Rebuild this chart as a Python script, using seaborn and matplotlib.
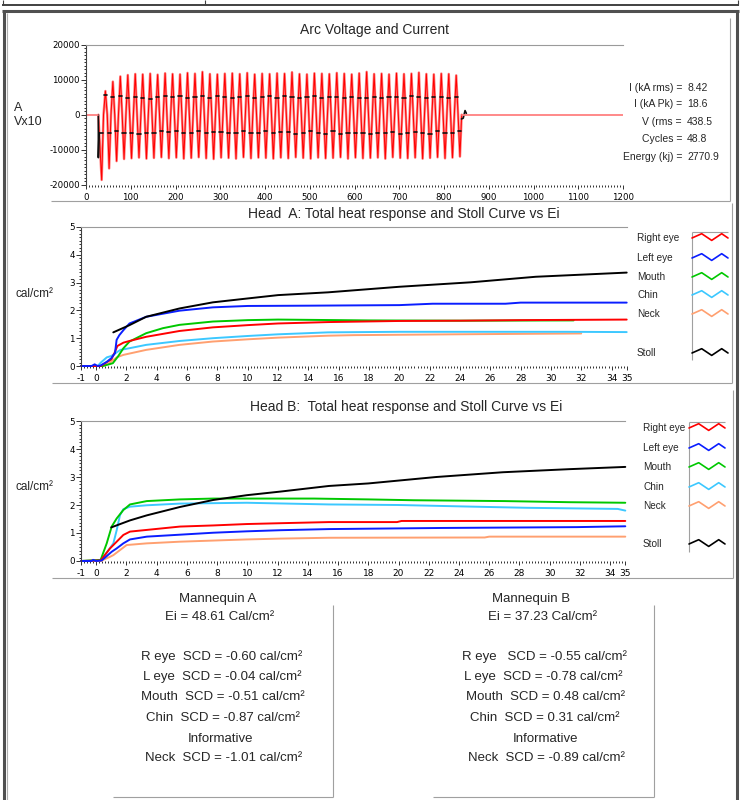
import numpy as np
import pandas as pd
import matplotlib
matplotlib.use("Agg")
import matplotlib.pyplot as plt
import seaborn as sns
from matplotlib.ticker import MultipleLocator, FixedLocator
from matplotlib.lines import Line2D

sns.set_style("white")
plt.rcParams['font.family'] = ['Liberation Sans', 'DejaVu Sans']
plt.rcParams['axes.unicode_minus'] = False

# ---------------- data ----------------
# arc current, half-cycle peaks (A); negatives first
cur_neg = [-18700, -15400, -13300, -12700, -12500, -12300, -12600, -12400, -12200, -12500,
           -12300, -12600, -12400, -12200, -12500, -12700, -12300, -12400, -12600, -12200,
           -12500, -12300, -12400, -12600, -12300, -12500, -12200, -12400, -12600, -12300,
           -12500, -12400, -12200, -12600, -12300, -12500, -12400, -12300, -12600, -12200,
           -12400, -12500, -12300, -12600, -12400, -12200, -12500, -12300, -12000]
cur_pos = [6800, 9500, 11000, 11400, 11700, 11600, 11800, 11500, 11900, 11700,
           11600, 12000, 11800, 12300, 11700, 11600, 11800, 11900, 11700, 12000,
           11600, 11800, 11700, 11900, 11800, 12200, 11700, 11600, 11900, 11800,
           11700, 12000, 11800, 11600, 11900, 12300, 11700, 11800, 11600, 11900,
           11700, 11800, 12100, 11700, 11600, 11800, 11700, 11300]
# arc voltage plateau per half cycle (V x10)
v_mag = [5200, 5600, 5300, 5000, 4800, 5400, 5100, 4700, 5300, 5000,
         5500, 4900, 5200, 4600, 5300, 5100, 4800, 5400, 5000, 5200,
         4700, 5500, 5100, 4900, 5300, 5000, 4800, 5400, 5200, 4700,
         5000, 5500, 4900, 5100, 5300, 4800, 5200, 5000, 4600, 5400,
         5100, 4900, 5300, 5000, 4800, 5500, 5200, 4700, 5000, 5300,
         4900, 5100, 5400, 4800, 5200, 5000, 4700, 5300, 5100, 4900,
         5500, 5000, 4800, 5200, 5400, 4700, 5100, 5000, 5300, 4900,
         5200, 4800, 5500, 5000, 5100, 4700, 5300, 5200, 4900, 5000,
         5400, 4800, 5100, 5300, 4900, 5000, 5200, 4700, 5400, 5100,
         4800, 5000, 5300, 4900, 5200, 5000, 4600]
v_spike = -12300
v_tail_t = [839, 843, 847, 850]
v_tail = [-1200, -1000, 1200, 400]
t_arc_on = 27.6
t_arc_off = 839.5
t_first_peak = 35.0
half_cycle = 8.34
t_trace_end = 1200

stat_labels = ["I (kA rms) =", "I (kA Pk) =", "V (rms =", "Cycles =", "Energy (kj) ="]
stat_values = ["8.42", "18.6", "438.5", "48.8", "2770.9"]

parts = ["Right eye", "Left eye", "Mouth", "Chin", "Neck", "Stoll"]
part_colors = {"Right eye": "#ff0000", "Left eye": "#0a1eff", "Mouth": "#00c800",
               "Chin": "#3cc8ff", "Neck": "#ffa070", "Stoll": "#000000"}

headA = {
    "Neck": ([-1, 0.4, 0.8, 1.35, 1.8, 3.3, 5.5, 7.7, 10, 12, 15.3, 17, 23.7, 32],
             [0, 0, 0.07, 0.31, 0.40, 0.58, 0.76, 0.88, 0.96, 1.02, 1.09, 1.11, 1.14, 1.17]),
    "Chin": ([-1, 0.1, 0.3, 0.7, 1.0, 1.6, 2.2, 3.3, 5.5, 7.7, 10, 12, 15.3, 20, 31, 35],
             [0, 0, 0.12, 0.31, 0.36, 0.58, 0.64, 0.76, 0.90, 1.00, 1.08, 1.14, 1.21, 1.23, 1.23, 1.22]),
    "Mouth": ([-1, 0.45, 1.1, 1.45, 1.8, 2.2, 3.3, 4.4, 5.5, 7.7, 10, 12, 14, 18, 24, 31.5],
              [0, 0, 0.10, 0.35, 0.64, 0.88, 1.18, 1.36, 1.48, 1.60, 1.65, 1.67, 1.66, 1.64, 1.63, 1.64]),
    "Right eye": ([-1, 0.3, 0.6, 1.0, 1.2, 1.4, 1.8, 2.2, 3.3, 5.5, 7.7, 10, 12, 15.3, 20, 24, 28, 35],
                  [0, 0, 0.10, 0.24, 0.46, 0.72, 0.84, 0.90, 1.05, 1.26, 1.39, 1.47, 1.53, 1.58, 1.62, 1.63, 1.65, 1.67]),
    "Left eye": ([-1, -0.3, -0.1, 0.1, 0.3, 0.7, 1.0, 1.24, 1.35, 1.53, 1.8, 2.2, 3.3, 5.5, 7.7, 10, 14, 20, 22.2, 27, 28, 35],
                 [0, 0, 0.06, 0, 0.02, 0.15, 0.28, 0.46, 0.94, 1.11, 1.29, 1.53, 1.77, 1.99, 2.11, 2.16, 2.17, 2.19, 2.24, 2.24, 2.28, 2.28]),
    "Stoll": ([1.13, 2.2, 3.3, 5.5, 7.7, 10, 12, 15.3, 20, 24.7, 29, 35],
              [1.21, 1.47, 1.77, 2.07, 2.29, 2.43, 2.55, 2.65, 2.85, 3.01, 3.21, 3.36]),
}
headB = {
    "Neck": ([-1, 0.35, 0.54, 0.92, 1.14, 1.58, 2.02, 3.35, 5.55, 7.75, 9.96, 12.2, 15.4, 25.7, 26, 35],
             [0, 0, 0.06, 0.15, 0.21, 0.39, 0.57, 0.63, 0.69, 0.73, 0.77, 0.80, 0.83, 0.84, 0.87, 0.87]),
    "Chin": ([-1, 0.3, 0.7, 1.14, 1.36, 1.58, 1.8, 2.24, 3.35, 5.55, 9.96, 15.4, 20, 25, 28.5, 34.5, 35],
             [0, 0.02, 0.30, 0.63, 1.10, 1.64, 1.85, 1.94, 1.99, 2.05, 2.08, 2.02, 2.00, 1.94, 1.90, 1.86, 1.80]),
    "Mouth": ([-1, 0.3, 0.7, 1.03, 1.36, 1.8, 2.24, 3.35, 5.55, 7.75, 14.4, 18, 21, 27, 31.3, 35],
              [0, 0.04, 0.63, 1.23, 1.52, 1.82, 2.02, 2.14, 2.20, 2.23, 2.23, 2.20, 2.17, 2.14, 2.10, 2.08]),
    "Right eye": ([-1, 0.3, 0.92, 1.36, 1.8, 2.24, 3.35, 5.55, 7.75, 9.96, 12.2, 15.4, 19.9, 20.2, 35],
                  [0, 0.02, 0.45, 0.69, 0.93, 1.05, 1.11, 1.23, 1.27, 1.32, 1.35, 1.39, 1.39, 1.43, 1.43]),
    "Left eye": ([-1, -0.3, -0.2, 0.0, 0.37, 1.03, 1.36, 1.8, 2.24, 3.35, 5.55, 7.75, 9.96, 12.2, 15.4, 22.9, 31.8, 35],
                 [0, 0, 0.04, 0, 0.02, 0.33, 0.45, 0.63, 0.77, 0.87, 0.94, 1.01, 1.06, 1.10, 1.14, 1.18, 1.21, 1.24]),
    "Stoll": ([1.0, 2.24, 3.35, 5.55, 7.75, 9.96, 12.2, 15.4, 18, 22.5, 26.9, 31.3, 35],
              [1.20, 1.45, 1.63, 1.93, 2.18, 2.35, 2.48, 2.68, 2.77, 3.00, 3.17, 3.28, 3.36]),
}

textA = ["Mannequin A", "Ei = 48.61 Cal/cm²", "", "R eye  SCD = -0.60 cal/cm²",
         "L eye  SCD = -0.04 cal/cm²", "Mouth  SCD = -0.51 cal/cm²",
         "Chin  SCD = -0.87 cal/cm²", "Informative", "Neck  SCD = -1.01 cal/cm²"]
textB = ["Mannequin B", "Ei = 37.23 Cal/cm²", "", "R eye   SCD = -0.55 cal/cm²",
         "L eye  SCD = -0.78 cal/cm²", "Mouth  SCD = 0.48 cal/cm²",
         "Chin  SCD = 0.31 cal/cm²", "Informative", "Neck  SCD = -0.89 cal/cm²"]

# ---------------- figure ----------------
W, H = 741, 800
fig = plt.figure(figsize=(W / 100, H / 100), dpi=100)
fig.patch.set_facecolor('white')


def px_axes(left, top, right, bottom):
    return fig.add_axes([left / W, 1 - bottom / H, (right - left) / W, (bottom - top) / H])


def ftext(x, y, s, **kw):
    fig.text(x / W, 1 - y / H, s, **kw)


bg = fig.add_axes([0, 0, 1, 1], zorder=-5)
bg.set_xlim(0, W)
bg.set_ylim(H, 0)
bg.axis('off')


def seg(x0, y0, x1, y1, c='#a0a0a0', lw=0.8):
    bg.add_line(Line2D([x0, x1], [y0, y1], color=c, lw=lw, solid_capstyle='butt'))


# window frames
seg(2, 4.5, 739, 4.5, '#404040', 1.4)
seg(205, 0, 205, 4.5, '#404040', 0.8)
seg(3, 0, 3, 4.5, '#404040', 0.8)
seg(738, 0, 738, 4.5, '#404040', 0.8)
seg(2, 11, 739, 11, '#505050', 2.2)
seg(4, 11, 4, 800, '#505050', 2.2)
seg(737, 11, 737, 800, '#505050', 2.2)
seg(7, 13, 7, 800, '#b0b0b0', 0.8)
# panel frames
seg(51, 200.5, 730, 200.5)
seg(730, 18, 730, 200.5)
seg(52, 383, 732, 383)
seg(732, 203, 732, 383)
seg(52, 578, 733, 578)
seg(733, 390, 733, 578)
seg(333, 605, 333, 797)
seg(113, 797, 333, 797)
seg(654, 605, 654, 797)
seg(433, 797, 654, 797)


def style_axes(ax, xsize, ysize):
    ax.set_facecolor('white')
    for s in ('right', 'bottom'):
        ax.spines[s].set_visible(False)
    ax.spines['left'].set_color('#404040')
    ax.spines['left'].set_linewidth(0.8)
    ax.spines['top'].set_color('#9a9a9a')
    ax.spines['top'].set_linewidth(0.8)
    ax.tick_params(which='both', bottom=True, left=True, direction='out', color='#303030',
                   width=0.7, labelcolor='black', labelfontfamily='DejaVu Sans')
    ax.tick_params(axis='y', which='major', length=3.5, pad=1, labelsize=ysize)
    ax.tick_params(axis='y', which='minor', length=1.5)
    ax.tick_params(axis='x', which='major', length=3, pad=3, labelsize=xsize)
    ax.tick_params(axis='x', which='minor', length=1.5)
    ax.set_xlabel('')
    ax.set_ylabel('')


# ---------------- arc voltage and current ----------------
n_half = len(cur_neg) + len(cur_pos)
peaks = np.empty(n_half)
peaks[0::2] = cur_neg
peaks[1::2] = cur_pos
t_peak = t_first_peak + half_cycle * np.arange(n_half)
t_zero = (t_peak[:-1] + t_peak[1:]) / 2

t_cur = [t_arc_on]
i_cur = [0.0]
for k in range(n_half):
    t_cur.append(t_peak[k])
    i_cur.append(peaks[k])
    if k < n_half - 1:
        t_cur.append(t_zero[k])
        i_cur.append(0.0)
t_cur.append(t_arc_off)
i_cur.append(0.0)

# voltage: one short plateau stroke per half cycle (units), plus start spike and tail
bounds = np.concatenate([[t_arc_on], t_zero, [t_arc_off]])
sgn = np.sign(peaks)
v_t = [t_arc_on, t_arc_on, bounds[0] + 1.5]
v_y = [0, v_spike, sgn[0] * v_mag[0]]
v_u = [0, 0, 0]
for k in range(n_half):
    v_t += [bounds[k] + (1.5 if k == 0 else 0.6), bounds[k + 1] - 0.6]
    v_y += [sgn[k] * v_mag[k]] * 2
    v_u += [k + 1] * 2
v_t += v_tail_t
v_y += v_tail
v_u += [n_half + 1] * len(v_tail_t)
volt = pd.DataFrame({'t': v_t, 'v': v_y, 'u': v_u})

ax0 = px_axes(86, 45, 623, 184.5)
sns.lineplot(x=t_cur, y=i_cur, color='#ff8080', lw=1.8, estimator=None, sort=False, ax=ax0)
sns.lineplot(x=t_cur, y=i_cur, color='#ff0000', lw=0.7, estimator=None, sort=False, ax=ax0)
sns.lineplot(data=volt, x='t', y='v', units='u', color='#101010', lw=1.2,
             estimator=None, sort=False, ax=ax0)
sns.lineplot(x=[0, t_arc_on], y=[0, 0], color='#ff8080', lw=1.3, estimator=None, sort=False, ax=ax0)
sns.lineplot(x=[t_arc_off, t_trace_end], y=[0, 0], color='#ff8080', lw=1.3, estimator=None, sort=False, ax=ax0)
ax0.set_xlim(0, 1200)
ax0.set_ylim(-20000, 20000)
ax0.xaxis.set_major_locator(MultipleLocator(100))
ax0.xaxis.set_minor_locator(MultipleLocator(100 / 15))
ax0.yaxis.set_major_locator(MultipleLocator(10000))
ax0.yaxis.set_minor_locator(MultipleLocator(1000))
style_axes(ax0, 6.2, 6.2)

ftext(374, 30, "Arc Voltage and Current", ha='center', va='center', size=10)
ftext(14, 108, "A", ha='left', va='center', size=9)
ftext(14, 122, "Vx10", ha='left', va='center', size=9)
for lab, val, yy in zip(stat_labels, stat_values, [88, 104, 122, 139, 157]):
    ftext(682, yy, lab, ha='right', va='center', size=7.5)
    ftext(687, yy, val, ha='left', va='center', size=7.5)


# ---------------- head panels ----------------
def head_panel(data, box, title, title_xy, ylab_y, leg_x, key_box, key_rows):
    ax = px_axes(*box)
    rows = []
    for name, (xs, ys) in data.items():
        for xv, yv in zip(xs, ys):
            rows.append((name, xv, yv))
    df = pd.DataFrame(rows, columns=['part', 'x', 'y'])
    sns.lineplot(data=df, x='x', y='y', hue='part', hue_order=list(data.keys()),
                 palette=part_colors, lw=1.4, estimator=None, sort=False,
                 legend=False, ax=ax, clip_on=False)
    ax.set_xlim(-1, 35)
    ax.set_ylim(0, 5)
    ax.xaxis.set_major_locator(FixedLocator([-1] + list(range(0, 35, 2)) + [35]))
    ax.xaxis.set_minor_locator(MultipleLocator(0.2))
    ax.yaxis.set_major_locator(MultipleLocator(1))
    ax.yaxis.set_minor_locator(MultipleLocator(0.125))
    style_axes(ax, 6.5, 6.3)
    ftext(title_xy[0], title_xy[1], title, ha='center', va='center', size=10)
    ftext(15, ylab_y, "cal/cm²", ha='left', va='center', size=8.5)
    kx0, ky0, kx1, ky1 = key_box
    seg(kx0, ky0, kx0, ky1)
    seg(kx0, ky0, kx1, ky0)
    dxs = np.array([0, 9.7, 19.7, 29.7, 36]) * (kx1 - kx0) / 36
    dys = np.array([0, -4.3, 2.4, -4.3, 0])
    for name, yy in zip(parts, key_rows):
        ftext(leg_x, yy, name, ha='left', va='center', size=7.2)
        bg.add_line(Line2D(kx0 + dxs, yy + dys, color=part_colors[name], lw=1.2))
    return ax


head_panel(headA, (81, 227, 626.7, 366), "Head  A: Total heat response and Stoll Curve vs Ei",
           (404, 214), 294, 637, (692, 232, 728, 360), [238, 258, 277, 295, 314, 353])
head_panel(headB, (81, 421, 625.3, 561), "Head B:  Total heat response and Stoll Curve vs Ei",
           (406, 407), 487, 643, (689, 422, 725, 552), [428, 448, 467, 487, 506, 544])

# ---------------- summary text ----------------
line_y = [599, 617, 637, 657, 677, 697, 718, 739, 758]
xA = [218, 220, 221, 222, 222, 223, 223, 220, 224]
xB = [531, 542, 544, 544, 543, 546, 545, 545, 546]
for s, yy, xa in zip(textA, line_y, xA):
    if s:
        ftext(xa, yy, s, ha='center', va='center', size=9.5)
for s, yy, xb in zip(textB, line_y, xB):
    if s:
        ftext(xb, yy, s, ha='center', va='center', size=9.5)

fig.savefig('out.png', dpi=100, facecolor='white')
